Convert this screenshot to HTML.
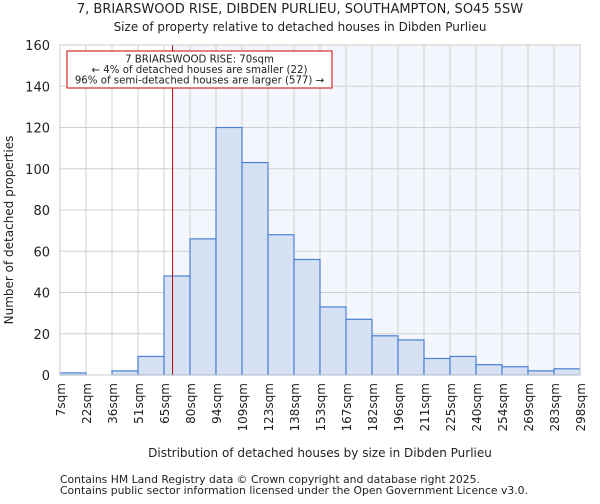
<!DOCTYPE html>
<html><head><meta charset="utf-8"><style>
body{margin:0;background:#fff;font-family:"DejaVu Sans","Liberation Sans",sans-serif}
text{font-family:"DejaVu Sans","Liberation Sans",sans-serif;fill:#222}
</style></head><body>
<svg id="chart" width="600" height="500" xmlns="http://www.w3.org/2000/svg">
<text x="300" y="13" font-size="13" text-anchor="middle">7, BRIARSWOOD RISE, DIBDEN PURLIEU, SOUTHAMPTON, SO45 5SW</text>
<text x="300" y="31" font-size="12" text-anchor="middle">Size of property relative to detached houses in Dibden Purlieu</text>
<g id="plot"></g>
<text x="320" y="457" font-size="12" text-anchor="middle">Distribution of detached houses by size in Dibden Purlieu</text>
<text transform="translate(13,230) rotate(-90)" font-size="12" text-anchor="middle">Number of detached properties</text>
<text x="60" y="483" font-size="10.8" fill="#444">Contains HM Land Registry data © Crown copyright and database right 2025.</text>
<text x="60" y="494" font-size="10.8" fill="#444">Contains public sector information licensed under the Open Government Licence v3.0.</text>
</svg>
<script>
const categories=["7sqm","22sqm","36sqm","51sqm","65sqm","80sqm","94sqm","109sqm","123sqm","138sqm","153sqm","167sqm","182sqm","196sqm","211sqm","225sqm","240sqm","254sqm","269sqm","283sqm","298sqm"];
const values=[1,0,2,9,48,66,120,103,68,56,33,27,19,17,8,9,5,4,2,3];
const yTicks=[0,20,40,60,80,100,120,140,160];
const binStart=7, binWidth=14.55, markerValue=70;
const annotation=["7 BRIARSWOOD RISE: 70sqm","← 4% of detached houses are smaller (22)","96% of semi-detached houses are larger (577) →"];
const L=60,R=580,T=45,B=375,NS="http://www.w3.org/2000/svg";
const g=document.getElementById('plot');
const bw=(R-L)/values.length;
const x=i=>L+i*bw;
const y=v=>B-(v/160)*(B-T);
const xv=v=>L+(v-binStart)/binWidth*bw;
function mk(t,a){const e=document.createElementNS(NS,t);for(const k in a)e.setAttribute(k,a[k]);g.appendChild(e);return e;}
const mx=xv(markerValue);
let bg=mk('rect',{x:L,y:T,width:mx-L,height:B-T,fill:'#fff'});


let bg2=mk('rect',{x:mx,y:T,width:R-mx,height:B-T,fill:'#f3f6fd'});


yTicks.forEach(t=>{
  let l=mk('line',{x1:L,x2:R,y1:y(t),y2:y(t),stroke:'#d0d0d0'});
  
  
  let tx=mk('text',{x:L-10,y:y(t)+5,'font-size':13,'text-anchor':'end'});tx.textContent=t;
  
  
});
categories.forEach((c,i)=>{
  let l=mk('line',{x1:x(i),x2:x(i),y1:T,y2:B,stroke:'#d0d0d0'});
  
  
  let tx=mk('text',{transform:`translate(${x(i)+5},${B+8}) rotate(-90)`,'font-size':12,'text-anchor':'end'});tx.textContent=c;
  
  
});
values.forEach((v,i)=>{
  let r=mk('rect',{x:x(i),y:y(v),width:bw,height:B-y(v),fill:'#d6e2f4',stroke:'#4a80d6','stroke-width':1.2});
  
  
});
let ml=mk('line',{x1:mx,x2:mx,y1:T,y2:B,stroke:'#b00','stroke-width':1});


let fr=mk('rect',{x:L,y:T,width:R-L,height:B-T,fill:'none',stroke:'#ccc'});


let ab=mk('rect',{x:67,y:51,width:265,height:37,fill:'#fff',stroke:'#c00'});


annotation.forEach((s,i)=>{
  let t=mk('text',{x:199.5,y:62.5+i*10.5,'font-size':10.2,'text-anchor':'middle'});t.textContent=s;
  
  
});
</script>
</body></html>
